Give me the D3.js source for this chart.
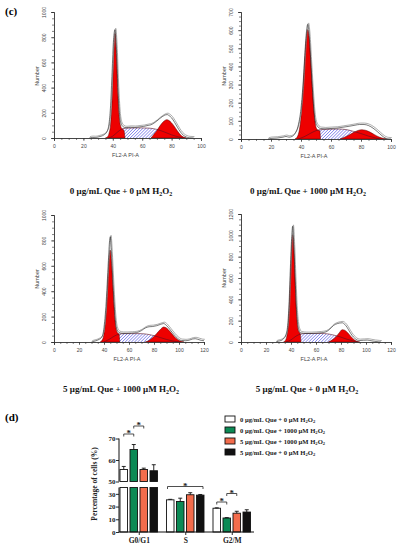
<!DOCTYPE html>
<html>
<head>
<meta charset="utf-8" />
<script src="https://d3js.org/d3.v7.min.js"></script>
<style>
  body { margin: 0; background: #fff; }
  svg { display: block; }
</style>
</head>
<body>
<svg id="fig" width="397" height="550"></svg>
<script>
// ---------- histogram data (channel, count) ----------
var p1G1 = [[35,0],[36.5,10],[37.5,40],[38.5,110],[39.5,300],[40.5,620],[41.5,830],[42.5,640],[43.5,330],[44.5,150],[45.5,90],[46.5,72],[47.5,62],[48.3,0]];
var p1S = [[37,0],[40,15],[43,45],[46,70],[49,78],[55,80],[60,80],[65,78],[70,68],[75,48],[80,25],[85,8],[88,0]];
var p1G2 = [[66,0],[68,30],[70,60],[72,95],[74,125],[76,143],[77,145],[78,140],[80,120],[82,90],[84,55],[86,25],[88,8],[90,0]];
var p1Data = [[24,0],[26,4],[28,3],[30,8],[32,14],[34,25],[36,50],[37.5,120],[38.5,260],[39.5,520],[40.5,780],[41.5,860],[42.5,700],[43.5,400],[44.5,200],[45.5,120],[47,90],[49,82],[52,85],[55,84],[58,88],[61,92],[64,100],[66,105],[68,118],[70,135],[72,155],[74,172],[76,184],[77,186],[78,180],[80,160],[82,125],[84,85],[86,48],[88,22],[90,8],[92,2],[95,0]];

var p2G1 = [[36,0],[37.5,12],[38.5,34],[39.5,82],[40.5,167],[41.5,295],[42.5,440],[43.5,555],[44.4,603],[45.5,550],[46.5,430],[47.5,290],[48.5,165],[49.5,85],[50.5,55],[51.5,48],[52.5,45],[53,0]];
var p2S = [[38,0],[42,12],[46,30],[50,46],[54,52],[60,54],[65,55],[70,52],[75,42],[80,30],[85,16],[90,5],[93,0]];
var p2G2 = [[66,0],[69,10],[72,22],[75,36],[78,47],[80.5,51],[83,48],[86,38],[89,24],[92,11],[95,3],[97,0]];
var p2Data = [[18,0],[20,3],[24,5],[28,10],[30,14],[32,10],[34,14],[36,30],[38,70],[40,170],[41.5,320],[42.5,460],[43.5,580],[44.5,632],[45.5,570],[46.5,430],[47.5,290],[48.5,170],[49.5,100],[51,70],[53,58],[56,56],[60,58],[64,60],[68,65],[72,70],[76,76],[79,80],[82,80],[85,74],[88,60],[91,40],[94,18],[96,6],[98,1],[100,0]];

var p3G1 = [[37,0],[38.5,15],[39.5,40],[40.5,100],[41.5,200],[42.5,360],[43.5,560],[44.9,724],[46,620],[47,450],[48,280],[49,150],[50,90],[51,70],[52,62],[52.6,0]];
var p3S = [[40,0],[44,20],[48,45],[52,62],[56,66],[62,66],[68,66],[74,62],[80,50],[85,35],[90,20],[95,8],[100,0]];
var p3G2 = [[73,0],[76,12],[79,35],[82,65],[85,98],[87.7,118],[90,110],[93,80],[96,45],[99,18],[102,4],[104,0]];
var p3Data = [[30,0],[33,8],[36,20],[38,35],[39.5,80],[40.5,160],[41.5,280],[42.5,450],[43.5,640],[44.5,800],[45,829],[46,700],[47,500],[48,320],[49,180],[50,110],[52,75],[55,68],[58,68],[62,70],[66,74],[70,90],[73,110],[76,120],[79,122],[82,128],[85,138],[87.7,145],[90,130],[93,95],[96,58],[99,28],[102,12],[105,10],[108,14],[111,24],[113,26],[116,18],[118,12],[120,10]];

var p4G1 = [[34,0],[35.5,15],[36.5,45],[37.5,120],[38.5,300],[39.5,590],[40.5,880],[41.3,1006],[42.3,870],[43.3,570],[44.3,290],[45.3,140],[46.3,95],[47.3,80],[48,0]];
var p4S = [[36,0],[40,20],[44,55],[48,75],[52,80],[58,80],[64,80],[70,75],[75,62],[80,45],[85,25],[90,10],[94,0]];
var p4G2 = [[70,0],[73,20],[76,50],[78.5,85],[81,116],[83,110],[85.5,85],[88,50],[90.5,22],[93,5],[95,0]];
var p4Data = [[28,0],[30,8],[32,14],[34,30],[36,70],[37.5,180],[38.5,380],[39.5,700],[40.5,970],[41.3,1085],[42.3,900],[43.3,600],[44.3,330],[45.3,180],[46.5,110],[48,85],[52,80],[56,80],[60,82],[64,86],[68,95],[71,120],[74,155],[77,172],[79,178],[81,180],[83,165],[85,135],[87,95],[89,60],[91,35],[93,18],[95,14],[98,16],[101,18],[104,12],[107,6],[110,2],[112,0]];

var histXMax = [100, 100, 120, 120];
var histYMax = [1000, 700, 1000, 1200];
var histYStep = [200, 100, 200, 200];
var histCaptions = [
  ["0 μg/mL Que + 0 μM H", "2", "O", "2"],
  ["0 μg/mL Que + 1000 μM H", "2", "O", "2"],
  ["5 μg/mL Que + 1000 μM H", "2", "O", "2"],
  ["5 μg/mL Que + 0 μM H", "2", "O", "2"]
];

// ---------- bar chart data ----------
var phases = ["G0/G1", "S", "G2/M"];
var groups = ["0 μg/mL Que + 0 μM H2O2", "0 μg/mL Que + 1000 μM H2O2", "5 μg/mL Que + 1000 μM H2O2", "5 μg/mL Que + 0 μM H2O2"];
var meanG0G1 = [55.6, 64.9, 55.6, 55.0];
var meanS = [25.3, 24.0, 29.3, 29.0];
var meanG2M = [18.7, 11.0, 14.8, 15.7];
var errG0G1 = [1.4, 2.3, 0.6, 2.8];
var errS = [0.4, 2.6, 1.6, 0.5];
var errG2M = [0.3, 0.3, 1.5, 1.8];
var lowTicks = [0, 10, 20, 30];
var highTicks = [50, 60, 70];
var groupColors = ["#ffffff", "#0b8a55", "#f36c4c", "#111111"];
// significance: [phase, from group, to group, level]
var sigMarks = [[0, 0, 1, 0], [0, 1, 2, 1], [1, 0, 3, 0], [2, 0, 1, 1], [2, 1, 2, 2]];

var svg = d3.select("#fig");
var defs = svg.append("defs");
var pat = defs.append("pattern").attr("id", "hatch")
  .attr("patternUnits", "userSpaceOnUse").attr("width", 2.2).attr("height", 2.2)
  .attr("patternTransform", "rotate(45)");
pat.append("rect").attr("width", 2.2).attr("height", 2.2).attr("fill", "#ffffff");
pat.append("line").attr("x1", 0).attr("y1", 0).attr("x2", 0).attr("y2", 2.2)
  .attr("stroke", "#3a3ae0").attr("stroke-width", 0.9);

var sansFont = "Liberation Sans, Arial, sans-serif";
var serifFont = "Liberation Serif, Times New Roman, serif";

svg.append("text").attr("x", 5).attr("y", 15)
  .attr("font-family", serifFont).attr("font-weight", "bold").attr("font-size", 11)
  .text("(c)");

// panel boxes: [x0, x1, yBottom, yTop]
var panelBoxes = [[54, 201, 138, 12], [241, 391, 139, 12], [54, 204, 342, 215], [241, 391, 342, 214]];
var captionPos = [[121, 194], [308, 194], [121, 392], [307, 392]];
var histSets = [
  [p1G1, p1S, p1G2, p1Data],
  [p2G1, p2S, p2G2, p2Data],
  [p3G1, p3S, p3G2, p3Data],
  [p4G1, p4S, p4G2, p4Data]
];

histSets.forEach(function(set, i) {
  var b = panelBoxes[i];
  var x = d3.scaleLinear().domain([0, histXMax[i]]).range([b[0], b[1]]);
  var y = d3.scaleLinear().domain([0, histYMax[i]]).range([b[2], b[3]]);
  var g = svg.append("g");

  var area = d3.area().x(function(d) { return x(d[0]); })
    .y0(y(0)).y1(function(d) { return y(d[1]); })
    .curve(d3.curveMonotoneX);
  var line = d3.line().x(function(d) { return x(d[0]); })
    .y(function(d) { return y(d[1]); })
    .curve(d3.curveMonotoneX);

  // S phase hatched
  g.append("path").datum(set[1]).attr("d", area)
    .attr("fill", "url(#hatch)").attr("stroke", "none");
  // G1 and G2 peaks
  [set[0], set[2]].forEach(function(pk) {
    g.append("path").datum(pk).attr("d", area)
      .attr("fill", "#ee0000").attr("stroke", "#550000").attr("stroke-width", 0.5);
  });
  // S outline
  g.append("path").datum(set[1]).attr("d", line)
    .attr("fill", "none").attr("stroke", "#5a1020").attr("stroke-width", 0.6);
  // data outline (double trace)
  g.append("path").datum(set[3]).attr("d", line)
    .attr("fill", "none").attr("stroke", "#8a8a8a").attr("stroke-width", 0.7)
    .attr("transform", "translate(0.8,-1.4)");
  g.append("path").datum(set[3]).attr("d", line)
    .attr("fill", "none").attr("stroke", "#222").attr("stroke-width", 0.6);

  // axes
  var xAxis = d3.axisBottom(x).tickValues(d3.range(0, histXMax[i] + 1, 20))
    .tickSize(3).tickFormat(d3.format("d"));
  var xMinor = d3.axisBottom(x).tickValues(d3.range(0, histXMax[i] + 1, 5))
    .tickSize(2).tickFormat("");
  var yAxis = d3.axisLeft(y).tickValues(d3.range(0, histYMax[i] + 1, histYStep[i]))
    .tickSize(3).tickFormat(d3.format("d"));
  var yMinor = d3.axisLeft(y).tickValues(d3.range(0, histYMax[i] + 1, histYStep[i] / 4))
    .tickSize(2).tickFormat("");

  g.append("g").attr("transform", "translate(0," + b[2] + ")").call(xMinor);
  var gx = g.append("g").attr("transform", "translate(0," + b[2] + ")").call(xAxis);
  g.append("g").attr("transform", "translate(" + b[0] + ",0)").call(yMinor);
  var gy = g.append("g").attr("transform", "translate(" + b[0] + ",0)").call(yAxis);

  g.selectAll(".domain").attr("stroke", "#333").attr("stroke-width", 0.7);
  g.selectAll(".tick line").attr("stroke", "#333").attr("stroke-width", 0.6);
  gx.selectAll("text").attr("font-family", sansFont).attr("font-size", 5)
    .attr("fill", "#444").attr("y", 6);
  gy.selectAll("text").attr("font-family", sansFont).attr("font-size", 5)
    .attr("fill", "#444").attr("text-anchor", "middle")
    .attr("transform", "rotate(-90)").attr("x", 0).attr("y", -9).attr("dy", 0)
    .attr("dominant-baseline", "middle");
  gy.selectAll(".tick text").each(function() {
    var t = d3.select(this.parentNode).attr("transform");
    var ty = +t.match(/,([\-\d.]+)/)[1];
    d3.select(this).attr("transform", "translate(" + (-9) + "," + ty + ") rotate(-90)")
      .attr("x", 0).attr("y", 0);
    d3.select(this.parentNode).attr("transform", null);
    d3.select(this.parentNode).select("line").attr("transform", "translate(0," + ty + ")");
  });

  g.append("text").attr("x", (b[0] + b[1]) / 2 - 2).attr("y", b[2] + 19)
    .attr("text-anchor", "middle").attr("font-family", sansFont).attr("font-size", 5.5)
    .attr("fill", "#444").text("FL2-A PI-A");
  g.append("text").attr("transform", "translate(" + (b[0] - 15) + "," + (b[3] + 64) + ") rotate(-90)")
    .attr("text-anchor", "middle").attr("font-family", sansFont).attr("font-size", 5.5)
    .attr("fill", "#444").text("Number");

  var cap = svg.append("text").attr("x", captionPos[i][0]).attr("y", captionPos[i][1])
    .attr("text-anchor", "middle").attr("font-family", serifFont)
    .attr("font-weight", "bold").attr("font-size", 9).attr("fill", "#111");
  var c = histCaptions[i];
  cap.append("tspan").text(c[0]);
  cap.append("tspan").attr("font-size", 6).attr("dy", 1.5).text(c[1]);
  cap.append("tspan").attr("dy", -1.5).text(c[2]);
  cap.append("tspan").attr("font-size", 6).attr("dy", 1.5).text(c[3]);
});

// ---------- (d) bar chart ----------
svg.append("text").attr("x", 5).attr("y", 421)
  .attr("font-family", serifFont).attr("font-weight", "bold").attr("font-size", 11)
  .text("(d)");

var means = [meanG0G1, meanS, meanG2M];
var errs = [errG0G1, errS, errG2M];

var x0 = d3.scaleBand().domain(phases).range([115.5, 255]).padding(0);
var x1 = d3.scaleBand().domain(d3.range(groups.length)).range([4.5, 42]).paddingInner(0.25).paddingOuter(0);
var yLow = d3.scaleLinear().domain([0, 35]).range([532, 487.5]);
var yHigh = d3.scaleLinear().domain([50, 70]).range([481.5, 438.5]);
function yv(v) { return v > 35 ? yHigh(v) : yLow(v); }

var bc = svg.append("g");
phases.forEach(function(ph, pi) {
  var gx = x0(ph);
  means[pi].forEach(function(v, gi) {
    var bx = gx + x1(gi), bw = x1.bandwidth();
    var col = groupColors[gi];
    if (v > 35) {
      bc.append("rect").attr("x", bx).attr("width", bw)
        .attr("y", yLow(35)).attr("height", yLow(0) - yLow(35))
        .attr("fill", col).attr("stroke", "#111").attr("stroke-width", 0.9);
      bc.append("rect").attr("x", bx).attr("width", bw)
        .attr("y", yHigh(v)).attr("height", yHigh(50) - yHigh(v))
        .attr("fill", col).attr("stroke", "#111").attr("stroke-width", 0.9);
    } else {
      bc.append("rect").attr("x", bx).attr("width", bw)
        .attr("y", yLow(v)).attr("height", yLow(0) - yLow(v))
        .attr("fill", col).attr("stroke", "#111").attr("stroke-width", 0.9);
    }
    var cx = bx + bw / 2, e = errs[pi][gi];
    bc.append("line").attr("x1", cx).attr("x2", cx).attr("y1", yv(v)).attr("y2", yv(v + e))
      .attr("stroke", "#111").attr("stroke-width", 0.9);
    bc.append("line").attr("x1", cx - 2).attr("x2", cx + 2).attr("y1", yv(v + e)).attr("y2", yv(v + e))
      .attr("stroke", "#111").attr("stroke-width", 0.9);
  });
});

// axes
var axLow = d3.axisLeft(yLow).tickValues(lowTicks).tickSize(3).tickFormat(d3.format("d"));
var axHigh = d3.axisLeft(yHigh).tickValues(highTicks).tickSize(3).tickFormat(d3.format("d"));
var gLow = bc.append("g").attr("transform", "translate(119,0)").call(axLow);
var gHigh = bc.append("g").attr("transform", "translate(119,0)").call(axHigh);
[gLow, gHigh].forEach(function(a) {
  a.select(".domain").attr("d", null);
  a.selectAll("text").attr("font-family", serifFont).attr("font-weight", "bold")
    .attr("font-size", 7).attr("fill", "#222").attr("x", -3.5);
  a.selectAll(".tick line").attr("stroke", "#111").attr("stroke-width", 0.9);
});
bc.append("line").attr("x1", 119).attr("x2", 119).attr("y1", yLow(0)).attr("y2", yLow(35))
  .attr("stroke", "#111").attr("stroke-width", 1);
bc.append("line").attr("x1", 119).attr("x2", 119).attr("y1", yHigh(50)).attr("y2", yHigh(70))
  .attr("stroke", "#111").attr("stroke-width", 1);

var axX = d3.axisBottom(d3.scaleOrdinal().domain(phases).range(phases.map(function(p) {
  return x0(p) + x1(0) + (x1(3) + x1.bandwidth() - x1(0)) / 2;
}))).tickSize(3);
var gX = bc.append("g").attr("transform", "translate(0," + yLow(0) + ")").call(axX);
gX.select(".domain").attr("d", "M119,0H254").attr("stroke", "#111").attr("stroke-width", 1);
gX.selectAll(".tick line").attr("stroke", "#111").attr("stroke-width", 0.9);
gX.selectAll("text").attr("font-family", serifFont).attr("font-weight", "bold")
  .attr("font-size", 7.5).attr("fill", "#222").attr("y", 6);

bc.append("text").attr("transform", "translate(97,484) rotate(-90)")
  .attr("text-anchor", "middle").attr("font-family", serifFont).attr("font-weight", "bold")
  .attr("font-size", 7.5).attr("fill", "#222").text("Percentage of cells (%)");

// significance brackets
sigMarks.forEach(function(s) {
  var ph = phases[s[0]];
  var bw = x1.bandwidth();
  var xa = x0(ph) + x1(s[1]) + bw / 2;
  var xb = x0(ph) + x1(s[2]) + bw / 2;
  if (s[0] === 1) { xa = x0(ph) + x1(s[1]) + 1; xb = x0(ph) + x1(s[2]) + bw - 1; }
  var top = d3.max(d3.range(s[1], s[2] + 1), function(gi) { return yv(means[s[0]][gi] + errs[s[0]][gi]); });
  var tops = d3.range(s[1], s[2] + 1).map(function(gi) { return yv(means[s[0]][gi] + errs[s[0]][gi]); });
  var by = d3.min(tops) - 4 - s[3] * 0;
  if (s[0] === 0) by = s[3] === 0 ? 434 : 426;
  if (s[0] === 1) by = 486.5;
  if (s[0] === 2) by = s[3] === 1 ? 502 : 493.5;
  bc.append("path").attr("d", "M" + xa + "," + (by + 2.5) + "V" + by + "H" + xb + "V" + (by + 2.5))
    .attr("fill", "none").attr("stroke", "#222").attr("stroke-width", 0.8);
  bc.append("text").attr("x", (xa + xb) / 2).attr("y", by + 2.2)
    .attr("text-anchor", "middle").attr("font-family", serifFont).attr("font-weight", "bold")
    .attr("font-size", 9).attr("fill", "#222").text("*");
});

// legend
var lg = svg.append("g");
groups.forEach(function(name, gi) {
  var ly = 419 + gi * 11;
  lg.append("rect").attr("x", 225).attr("y", ly - 3).attr("width", 10).attr("height", 6)
    .attr("fill", groupColors[gi]).attr("stroke", "#111").attr("stroke-width", 0.9);
  var t = lg.append("text").attr("x", 240).attr("y", ly + 2.5)
    .attr("font-family", serifFont).attr("font-weight", "bold").attr("font-size", 6.6).attr("fill", "#222");
  var parts = name.split("H2O2");
  t.append("tspan").text(parts[0] + "H");
  t.append("tspan").attr("font-size", 4.6).attr("dy", 1.3).text("2");
  t.append("tspan").attr("dy", -1.3).text("O");
  t.append("tspan").attr("font-size", 4.6).attr("dy", 1.3).text("2");
});
</script>
</body>
</html>
